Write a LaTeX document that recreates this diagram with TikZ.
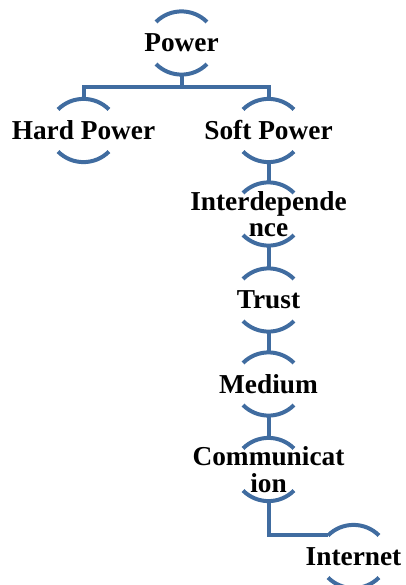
\documentclass[tikz,border=0pt]{standalone}
\usepackage{fontspec}
\setmainfont{Liberation Serif}
\definecolor{linkblue}{RGB}{64,108,160}
\tikzset{
  topic/.style={font=\fontsize{20.5}{20}\selectfont\bfseries, align=center, inner sep=0pt},
  link/.style={draw=linkblue, line width=3pt},
}
\begin{document}
\begin{tikzpicture}[x=0.75pt,y=0.75pt]
	    \useasboundingbox (0,0) rectangle (406,-585);

	    \node[topic] (power) at (181.5,-43) {Power};
	    \node[topic] (hard) at (83.5,-130.5) {Hard Power};
	    \node[topic] (soft) at (268.5,-130.5) {Soft Power};
	    \node[topic] (interdep) at (268.5,-214) {Interdepende\\nce};
	    \node[topic] (trust) at (268.5,-300) {Trust};
	    \node[topic] (medium) at (268.5,-384) {Medium};
	    \node[topic] (comm) at (268.5,-469.5) {Communicat\\ion};
	    \node[topic] (internet) at (353.5,-556.5) {Internet};

	    % arcs above and below each topic
	    \foreach \n in {power,hard,soft,interdep,trust,medium,comm,internet} {
	        \draw[link] ([shift={(-19.1pt,15.8pt)}]\n.center) arc[start angle=135, end angle=45, radius=27pt];
	        \draw[link] ([shift={(-19.1pt,-15.8pt)}]\n.center) arc[start angle=-135, end angle=-45, radius=27pt];
	    }

	    \coordinate (fork) at (181.5,-87);
	    \draw[link] ([yshift=-23.6pt]power.center) -- (fork);
	    \draw[link] (fork) -| ([yshift=23.6pt]hard.center);
	    \draw[link] (fork) -| ([yshift=23.6pt]soft.center);
	    \draw[link] ([yshift=-23.6pt]soft.center) -- ([yshift=23.6pt]interdep.center);
	    \draw[link] ([yshift=-23.6pt]interdep.center) -- ([yshift=23.6pt]trust.center);
	    \draw[link] ([yshift=-23.6pt]trust.center) -- ([yshift=23.6pt]medium.center);
	    \draw[link] ([yshift=-23.6pt]medium.center) -- ([yshift=23.6pt]comm.center);
	    \draw[link] ([yshift=-23.6pt]comm.center) |- ([shift={(-19.1pt,15.8pt)}]internet.center);
\end{tikzpicture}
\end{document}
